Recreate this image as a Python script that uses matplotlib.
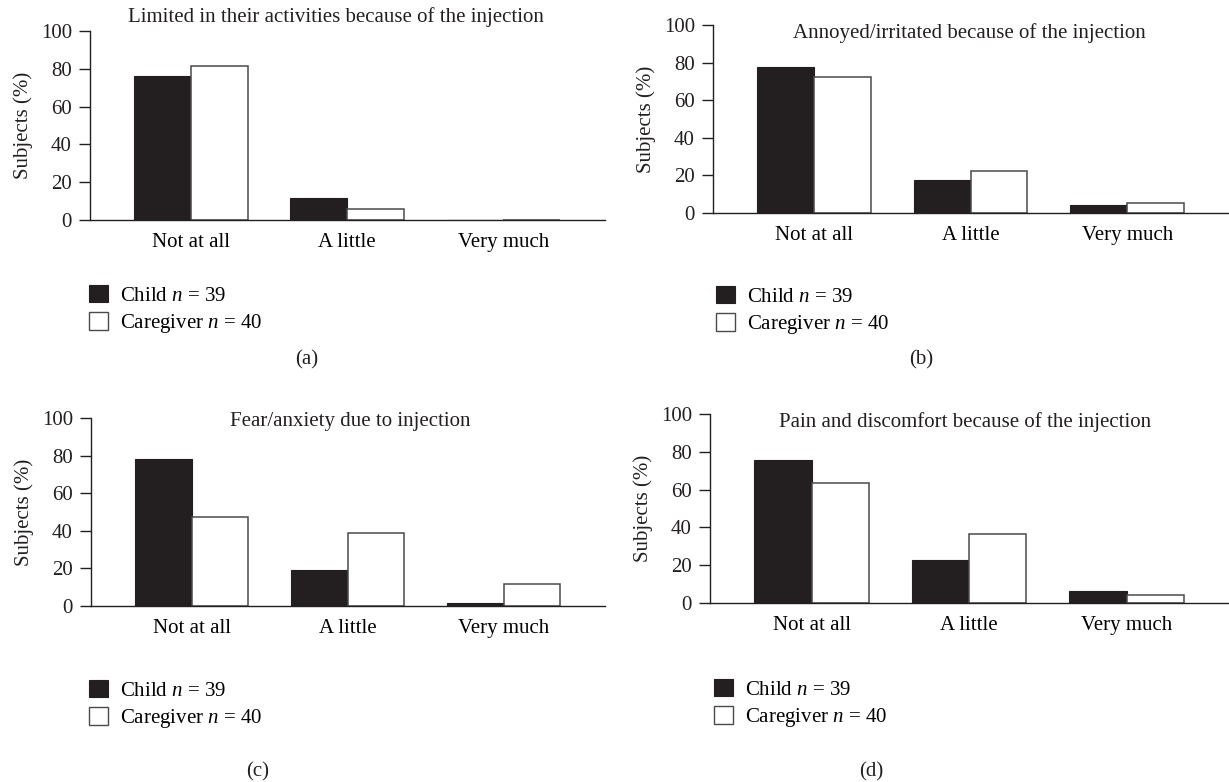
import matplotlib
matplotlib.use("Agg")
import matplotlib.pyplot as plt
from matplotlib.patches import Patch
import numpy as np

plt.rcParams['font.family'] = ['Liberation Serif', 'DejaVu Serif']
plt.rcParams['mathtext.fontset'] = 'custom'
plt.rcParams['mathtext.rm'] = 'Liberation Serif'
plt.rcParams['mathtext.it'] = 'Liberation Serif:italic'

categories = ["Not at all", "A little", "Very much"]
series_names = ["Child $n$ = 39", "Caregiver $n$ = 40"]
titles = [
    "Limited in their activities because of the injection",
    "Annoyed/irritated because of the injection",
    "Fear/anxiety due to injection",
    "Pain and discomfort because of the injection",
]
captions = ["(a)", "(b)", "(c)", "(d)"]
yticks = [0, 20, 40, 60, 80, 100]

child_a = [76, 11.5, 0]
caregiver_a = [81.5, 5.7, 0]
child_b = [77.9, 17.7, 4.1]
caregiver_b = [72.2, 22.1, 5.3]
child_c = [78.2, 18.9, 1.8]
caregiver_c = [47.4, 39, 11.7]
child_d = [75.8, 22.8, 6.5]
caregiver_d = [63.3, 36.5, 4.4]

child_all = [child_a, child_b, child_c, child_d]
caregiver_all = [caregiver_a, caregiver_b, caregiver_c, caregiver_d]

W, H = 1229, 782
fig = plt.figure(figsize=(W / 100, H / 100), dpi=100)

# layout in pixels: left, right, y(0), y(100)
layout = [
    (90, 605, 220, 31),
    (713, 1229, 213, 25),
    (91, 605, 606, 418),
    (710, 1229, 603, 414),
]
title_pos = [(0.478, 1.074), (0.496, 0.957), (0.504, 0.979), (0.491, 0.958)]
legend_pos = [(89, 285), (716, 286), (89, 680), (714, 679)]
caption_pos = [(307, 360), (921, 360), (258, 772), (871, 772)]

BLACK = '#231f20'
FS = 15
x = np.arange(len(categories))
bw = 0.363

for i in range(4):
    l, r, y0, y1 = layout[i]
    ax = fig.add_axes([l / W, 1 - y0 / H, (r - l) / W, (y0 - y1) / H])
    ax.bar(x - bw / 2, child_all[i], bw, color=BLACK, edgecolor=BLACK, linewidth=0.8, zorder=2)
    ax.bar(x + bw / 2, caregiver_all[i], bw, color='white', edgecolor='#4a4a4a', linewidth=1.1, zorder=2)
    ax.set_xlim(-0.645, 2.65)
    ax.set_ylim(0, 100)
    ax.set_yticks(yticks)
    ax.set_xticks(x)
    ax.set_xticklabels(categories, fontsize=FS)
    ax.tick_params(axis='x', length=0, pad=9.5)
    ax.tick_params(axis='y', length=8, width=1.0, pad=5, labelsize=FS, color=BLACK, labelcolor=BLACK)
    for s in ['top', 'right']:
        ax.spines[s].set_visible(False)
    for s in ['left', 'bottom']:
        ax.spines[s].set_color(BLACK)
        ax.spines[s].set_linewidth(1.0)
    ax.set_ylabel("Subjects (%)", fontsize=FS, color=BLACK, va='center')
    ax.yaxis.set_label_coords(-67 / (r - l), 0.5)
    ax.text(title_pos[i][0], title_pos[i][1], titles[i], transform=ax.transAxes,
            ha='center', va='center', fontsize=FS, color=BLACK)
    handles = [Patch(facecolor=BLACK, edgecolor=BLACK, linewidth=0.8),
               Patch(facecolor='white', edgecolor='#4a4a4a', linewidth=1.0)]
    lx, ly = legend_pos[i]
    ax.legend(handles, series_names, loc='upper left', bbox_to_anchor=(lx / W, 1 - ly / H),
              bbox_transform=fig.transFigure, frameon=False, fontsize=FS,
              handlelength=0.9, handleheight=0.9, handletextpad=0.6,
              labelspacing=0.3, borderpad=0, borderaxespad=0)
    cx, cy = caption_pos[i]
    fig.text(cx / W, 1 - cy / H, captions[i], ha='center', va='center', fontsize=FS, color=BLACK)

fig.savefig("out.png", dpi=100, facecolor='white')
